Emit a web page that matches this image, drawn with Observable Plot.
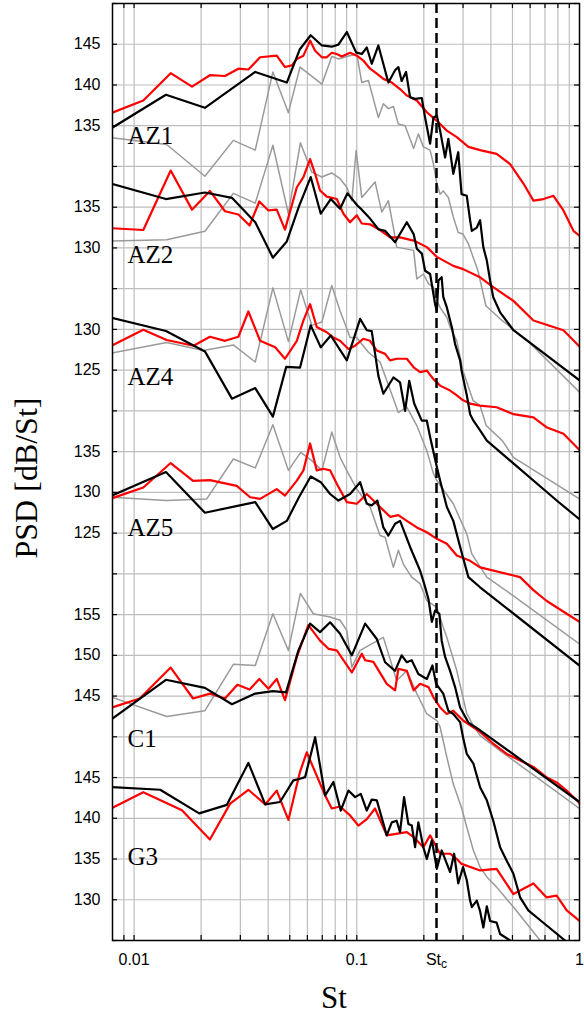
<!DOCTYPE html>
<html><head><meta charset="utf-8">
<script src="https://cdn.jsdelivr.net/npm/d3@7"></script>
<script src="https://cdn.jsdelivr.net/npm/@observablehq/plot@0.6"></script>
<style>
html,body{margin:0;padding:0;background:#fff;}
#chart{width:584px;height:1015px;}
</style></head><body><div id="chart"></div>
<script>
// ---- panel layout (each panel's dB values are shifted into one shared stacked axis)
const panels = ["AZ1","AZ2","AZ4","AZ5","C1","G3"];
const panelShift = {AZ1:35, AZ2:45, AZ4:55, AZ5:75, C1:115, G3:125};
const panelLabelDb = {AZ1:133.7, AZ2:129.1, AZ4:124.2, AZ5:125.6, C1:139.7, G3:135.2};
const yTickLabels = {AZ1:[135,140,145], AZ2:[130,135], AZ4:[125,130], AZ5:[125,130,135], C1:[145,150,155], G3:[130,135,140,145]};
const stC = 0.228;
const xTickValues = [0.01, 0.1, stC, 1];
const xTickLabels = ["0.01", "0.1", "St_c", "1"];
const gridX = [0.009,0.01,0.02,0.03,0.04,0.05,0.06,0.07,0.08,0.09,0.1,0.2,0.3,0.4,0.5,0.6,0.7,0.8,0.9];
const gridY = [0,5,10,15,20,25,30,35,40,45,50,55,60,65,70,75,80,85,90,95,100,105,110,115];

// ---- series: [St, PSD dB]
const az1Black = [[0.007,133.8],[0.0139,138.8],[0.0208,137.2],[0.035,141.6],[0.0485,140.3],[0.0554,144.35],[0.0621,146.1],[0.0697,144.85],[0.0772,144.7],[0.0827,144.95],[0.0902,146.5],[0.0993,144.0],[0.1053,143.8],[0.1109,144.6],[0.1167,142.6],[0.125,144.85],[0.1386,140.3],[0.1486,141.8],[0.1537,142.2],[0.159,140.5],[0.1664,141.6],[0.1735,138.5],[0.1827,138.3],[0.1958,138.4],[0.2026,136.0],[0.2134,132.8],[0.2209,136.0],[0.2288,136.25],[0.2366,134.4],[0.2492,131.1],[0.2577,133.4],[0.2712,129.1],[0.2854,131.75],[0.2954,126.6],[0.3118,126.4],[0.3227,123.4],[0.3284,122.1],[0.3458,122.5],[0.3578,123.4],[0.3699,120.1],[0.3836,118.45],[0.3968,116.0],[0.41,113.95],[0.44,112.1],[0.505,109.9],[1.0,103.75]];
const az1Red = [[0.007,136.0],[0.011,138.1],[0.0146,141.45],[0.0182,139.8],[0.0219,141.2],[0.0256,141.1],[0.0294,142.0],[0.0326,141.9],[0.0368,143.4],[0.0437,143.6],[0.0476,142.2],[0.0511,142.4],[0.0538,143.2],[0.0576,143.6],[0.0617,145.45],[0.065,144.2],[0.0697,143.4],[0.0733,143.4],[0.0772,143.95],[0.0813,143.8],[0.0856,143.5],[0.0933,143.95],[0.1,143.6],[0.107,143.0],[0.1147,142.0],[0.123,141.4],[0.1316,140.75],[0.1436,140.3],[0.1564,139.5],[0.1677,138.7],[0.186,138.1],[0.2063,136.65],[0.2288,135.6],[0.2537,134.4],[0.2812,133.6],[0.317,132.4],[0.3578,132.0],[0.4245,131.55],[0.488,130.3],[0.56,127.9],[0.621,125.8],[0.689,126.0],[0.764,126.4],[0.847,124.6],[0.939,122.1],[1.0,121.5]];
const az1Gray = [[0.007,133.7],[0.014,132.7],[0.0208,128.8],[0.0279,133.2],[0.035,132.0],[0.042,141.6],[0.0493,136.6],[0.0556,142.2],[0.0697,140.1],[0.0772,143.5],[0.0827,143.2],[0.0902,143.5],[0.1,143.8],[0.1053,140.3],[0.1128,140.55],[0.125,136.0],[0.1316,137.7],[0.1386,137.1],[0.146,137.35],[0.1537,135.2],[0.1648,135.0],[0.18,132.2],[0.189,134.0],[0.199,132.4],[0.2134,132.0],[0.2209,130.3],[0.2288,127.9],[0.2366,126.6],[0.2445,127.0],[0.2577,126.2],[0.2712,123.8],[0.2854,121.9],[0.3,121.7],[0.317,120.5],[0.35,117.2],[0.38,112.9],[0.44,111.3],[0.6,108.3],[1.0,102.3]];

const az2Black = [[0.007,138.3],[0.0139,136.0],[0.0208,136.8],[0.0275,136.15],[0.035,133.15],[0.042,128.8],[0.0485,130.8],[0.055,135.1],[0.0621,138.7],[0.0689,134.2],[0.0764,136.0],[0.0841,134.8],[0.0908,136.7],[0.1006,135.2],[0.1053,134.7],[0.1147,133.6],[0.125,132.3],[0.134,132.1],[0.1486,130.7],[0.1677,133.15],[0.18,131.7],[0.186,129.9],[0.196,129.3],[0.2026,127.2],[0.2134,126.8],[0.2247,123.1],[0.2288,122.3],[0.2326,126.0],[0.2405,126.4],[0.2445,124.0],[0.2537,122.7],[0.2675,120.2],[0.2763,118.2],[0.291,116.2],[0.2954,114.95],[0.312,111.9],[0.3227,109.6],[0.334,108.8],[0.3578,107.6],[0.3836,106.35],[0.79,99.0],[1.0,96.7]];
const az2Red = [[0.007,132.5],[0.011,132.2],[0.0146,139.5],[0.0182,134.7],[0.0219,137.0],[0.0256,134.5],[0.0294,134.1],[0.033,132.75],[0.0365,135.7],[0.0401,134.6],[0.0437,134.7],[0.0476,132.25],[0.0538,137.45],[0.0576,138.7],[0.0617,140.9],[0.065,139.1],[0.0684,137.05],[0.0733,136.3],[0.0813,136.0],[0.0871,134.2],[0.0933,133.15],[0.1,134.0],[0.1053,133.0],[0.1147,132.9],[0.1272,132.2],[0.1411,131.3],[0.1564,131.3],[0.18,130.9],[0.2063,130.1],[0.2288,128.9],[0.2712,127.8],[0.3,127.4],[0.3578,126.4],[0.41,125.2],[0.505,123.5],[0.621,121.1],[0.764,120.3],[0.847,119.9],[1.0,117.9]];
const az2Gray = [[0.007,130.8],[0.014,131.0],[0.0208,132.05],[0.0279,136.7],[0.035,135.5],[0.042,142.6],[0.0493,134.2],[0.0558,142.9],[0.0628,139.3],[0.0697,138.7],[0.0772,139.2],[0.0841,138.5],[0.0902,137.45],[0.095,135.8],[0.0993,141.95],[0.1053,136.2],[0.1208,138.1],[0.1295,134.4],[0.1386,135.8],[0.146,132.5],[0.151,130.1],[0.18,129.7],[0.186,126.2],[0.199,126.8],[0.21,125.6],[0.2209,125.2],[0.2288,123.5],[0.2366,122.7],[0.2445,122.1],[0.2537,121.5],[0.2624,120.3],[0.2812,118.6],[0.3,114.9],[0.333,111.25],[0.3578,110.65],[0.381,108.2],[0.45,106.35],[0.505,104.3],[1.0,99.2]];

const az4Black = [[0.007,131.8],[0.0139,129.8],[0.0208,127.3],[0.0275,121.5],[0.035,122.8],[0.042,119.3],[0.0482,125.4],[0.0556,125.3],[0.0621,130.5],[0.0689,127.8],[0.0764,129.25],[0.0902,126.2],[0.1035,131.3],[0.1109,129.9],[0.1167,129.8],[0.125,124.3],[0.1316,122.1],[0.146,124.1],[0.1564,123.5],[0.1648,120.0],[0.172,123.7],[0.181,120.9],[0.1958,118.8],[0.2063,118.8],[0.2134,116.8],[0.2288,113.1],[0.2366,111.45],[0.2537,108.2],[0.2712,106.5],[0.2954,102.65],[0.317,99.6],[0.3578,98.35],[1.0,88.75]];
const az4Red = [[0.007,127.25],[0.011,129.95],[0.014,128.7],[0.0185,128.0],[0.0219,129.1],[0.0256,128.6],[0.0294,129.1],[0.0326,132.2],[0.0368,128.6],[0.043,127.8],[0.0476,126.4],[0.0538,128.6],[0.0576,131.1],[0.0617,133.1],[0.0661,130.3],[0.0733,129.65],[0.0785,129.0],[0.0841,128.6],[0.0917,127.6],[0.0983,128.0],[0.107,128.85],[0.1147,128.6],[0.123,127.4],[0.134,127.0],[0.1411,126.2],[0.151,126.4],[0.1677,126.4],[0.18,125.35],[0.1924,124.75],[0.2063,124.95],[0.2209,123.9],[0.2366,123.1],[0.2624,122.5],[0.2812,121.9],[0.3,121.3],[0.3227,120.9],[0.3578,120.65],[0.4245,120.45],[0.505,119.6],[0.621,119.2],[0.71,118.0],[0.847,117.2],[1.0,115.2]];
const az4Gray = [[0.007,126.8],[0.014,128.4],[0.0205,127.4],[0.0279,128.1],[0.035,126.0],[0.042,135.1],[0.0493,128.5],[0.056,134.85],[0.0628,130.5],[0.0697,130.9],[0.0772,135.4],[0.0841,132.3],[0.0933,129.0],[0.1,129.0],[0.1053,128.2],[0.1128,127.2],[0.1272,126.0],[0.1537,119.8],[0.1677,120.45],[0.186,118.2],[0.2063,115.1],[0.2209,112.3],[0.2288,111.45],[0.2712,108.6],[0.3118,104.9],[0.3284,102.45],[0.3836,99.6],[0.505,97.3],[1.0,91.4]];

const az5Black = [[0.007,128.95],[0.0139,132.5],[0.0208,127.5],[0.035,128.8],[0.042,125.5],[0.0485,126.5],[0.055,129.4],[0.0621,131.95],[0.0689,131.25],[0.0759,129.8],[0.0827,129.0],[0.0933,129.8],[0.1035,131.25],[0.1109,128.6],[0.1167,128.4],[0.1237,129.0],[0.1316,125.7],[0.1386,124.7],[0.1486,126.15],[0.1564,126.5],[0.1648,124.9],[0.1735,123.3],[0.1827,121.85],[0.1924,120.4],[0.2006,118.8],[0.2098,116.9],[0.2173,114.1],[0.2247,115.5],[0.2348,115.1],[0.2405,111.8],[0.2492,109.8],[0.2624,108.1],[0.2763,106.1],[0.291,103.6],[0.317,101.75],[0.3578,100.8],[1.0,92.0]];
const az5Red = [[0.007,128.75],[0.011,130.6],[0.0146,133.6],[0.0184,131.4],[0.0219,131.5],[0.0289,130.8],[0.0332,129.4],[0.0368,129.2],[0.0437,130.4],[0.0476,129.6],[0.0538,131.45],[0.0576,132.7],[0.0617,136.0],[0.0661,132.7],[0.0708,132.9],[0.0759,132.7],[0.0813,131.05],[0.0902,128.8],[0.1,128.6],[0.1109,129.8],[0.1272,128.2],[0.1411,127.0],[0.1537,127.2],[0.1677,126.5],[0.186,125.7],[0.2063,125.1],[0.2288,124.3],[0.2537,123.7],[0.2812,122.25],[0.3227,121.6],[0.3578,120.8],[0.505,119.8],[0.541,119.6],[0.621,118.0],[0.71,116.7],[0.876,115.1],[1.0,114.1]];
const az5Gray = [[0.007,129.5],[0.014,129.0],[0.0212,129.2],[0.0279,134.1],[0.035,133.0],[0.042,138.3],[0.0493,132.7],[0.056,134.9],[0.0628,133.9],[0.0697,132.7],[0.0772,137.4],[0.0841,134.3],[0.0917,132.3],[0.1,130.4],[0.1147,128.2],[0.1272,124.7],[0.134,124.5],[0.146,120.8],[0.1537,122.9],[0.1618,121.2],[0.1764,119.6],[0.1924,118.8],[0.2063,116.7],[0.2288,115.9],[0.2445,113.45],[0.2537,112.2],[0.2812,108.1],[0.3118,102.85],[0.333,101.4],[0.3578,100.15],[0.45,98.1],[1.0,91.2]];

const c1Black = [[0.007,141.1],[0.0139,147.0],[0.0208,146.0],[0.0275,144.0],[0.035,145.3],[0.042,145.6],[0.0481,145.45],[0.0547,150.6],[0.0617,153.9],[0.0684,152.85],[0.0759,154.05],[0.0841,152.65],[0.095,150.0],[0.109,153.9],[0.123,152.0],[0.134,149.15],[0.1486,148.1],[0.159,150.0],[0.1677,149.15],[0.1764,149.4],[0.189,147.7],[0.2063,147.1],[0.2186,148.75],[0.2271,146.5],[0.2445,145.3],[0.2577,143.2],[0.2712,142.8],[0.291,141.8],[0.3,139.95],[0.3118,137.9],[0.334,136.7],[0.3578,133.8],[0.3836,132.2],[0.41,129.7],[0.44,126.45],[0.471,124.8],[0.505,123.2],[0.541,120.3],[0.589,118.7],[0.642,117.85],[0.861,115.0],[1.0,113.5]];
const c1Red = [[0.007,143.1],[0.0106,144.7],[0.0146,148.5],[0.0184,144.7],[0.0219,145.3],[0.0256,144.7],[0.0291,146.4],[0.033,145.8],[0.0365,147.1],[0.0401,145.9],[0.0437,147.1],[0.0476,144.5],[0.0538,149.8],[0.0606,153.7],[0.0684,151.8],[0.0746,150.8],[0.0813,150.6],[0.0871,149.4],[0.095,147.9],[0.1053,150.2],[0.109,149.4],[0.1187,149.2],[0.1363,146.5],[0.1486,145.7],[0.1537,148.35],[0.1677,148.1],[0.18,145.7],[0.1924,146.5],[0.2098,146.1],[0.2209,144.85],[0.2366,143.6],[0.2537,142.8],[0.2712,143.2],[0.3,142.0],[0.3578,140.6],[0.41,139.15],[0.471,137.9],[0.541,137.1],[0.621,136.3],[0.71,135.05],[0.79,134.4],[0.876,133.4],[0.99,132.0],[1.0,131.8]];
const c1Gray = [[0.007,145.4],[0.014,142.5],[0.0208,143.2],[0.0279,148.9],[0.035,148.75],[0.042,155.1],[0.0493,150.6],[0.0558,157.6],[0.0638,155.1],[0.0759,154.7],[0.0841,154.3],[0.0902,153.05],[0.095,148.55],[0.1035,150.6],[0.1316,152.2],[0.151,146.9],[0.1677,148.1],[0.186,145.3],[0.2063,142.8],[0.2288,142.0],[0.2366,141.2],[0.2537,137.5],[0.2712,134.2],[0.2954,131.3],[0.3118,128.9],[0.334,126.05],[0.3578,124.0],[0.3836,122.8],[0.4245,121.55],[0.505,119.1],[0.58,117.05],[0.666,115.0],[1.0,108.9]];

const g3Black = [[0.007,143.9],[0.0131,143.5],[0.0196,140.6],[0.0261,141.65],[0.0326,146.8],[0.0388,141.7],[0.0452,142.0],[0.0519,144.65],[0.0556,144.85],[0.0586,145.05],[0.065,149.95],[0.0721,142.8],[0.0785,144.45],[0.0847,140.95],[0.0917,143.4],[0.0983,142.6],[0.1042,143.0],[0.1109,140.95],[0.1167,142.3],[0.123,142.2],[0.1363,137.9],[0.1436,139.5],[0.151,139.7],[0.1564,138.3],[0.163,142.6],[0.1705,139.3],[0.1766,139.1],[0.1827,136.45],[0.189,139.5],[0.199,136.45],[0.2063,135.0],[0.2173,137.3],[0.2288,133.8],[0.2405,136.05],[0.2624,133.4],[0.2735,135.65],[0.2854,132.0],[0.3,134.0],[0.3118,132.4],[0.3227,129.9],[0.3284,129.1],[0.3458,129.9],[0.3578,128.6],[0.37,126.6],[0.3836,129.2],[0.3968,127.4],[0.4245,127.2],[0.44,125.8],[0.488,125.0],[0.52,122.0]];
const g3Red = [[0.007,140.5],[0.011,143.2],[0.0164,141.0],[0.0219,137.4],[0.027,141.8],[0.0326,143.5],[0.0388,141.7],[0.0437,143.4],[0.0493,139.8],[0.0556,145.7],[0.0596,148.1],[0.0721,142.8],[0.0772,141.2],[0.0841,141.45],[0.0933,140.35],[0.1017,139.1],[0.1109,139.9],[0.1208,141.2],[0.1363,137.9],[0.1677,138.3],[0.18,137.7],[0.199,136.45],[0.2134,137.9],[0.2366,135.65],[0.2624,135.65],[0.2812,135.0],[0.2954,134.4],[0.3578,133.6],[0.4245,133.8],[0.505,130.7],[0.621,132.0],[0.71,130.3],[0.79,130.5],[0.876,128.7],[0.99,127.5],[1.0,127.4]];

const series = [
  {panel:"AZ1", kind:"gray", data:az1Gray},{panel:"AZ2", kind:"gray", data:az2Gray},{panel:"AZ4", kind:"gray", data:az4Gray},
  {panel:"AZ5", kind:"gray", data:az5Gray},{panel:"C1", kind:"gray", data:c1Gray},
  {panel:"AZ1", kind:"red", data:az1Red},{panel:"AZ2", kind:"red", data:az2Red},{panel:"AZ4", kind:"red", data:az4Red},
  {panel:"AZ5", kind:"red", data:az5Red},{panel:"C1", kind:"red", data:c1Red},{panel:"G3", kind:"red", data:g3Red},
  {panel:"AZ1", kind:"black", data:az1Black},{panel:"AZ2", kind:"black", data:az2Black},{panel:"AZ4", kind:"black", data:az4Black},
  {panel:"AZ5", kind:"black", data:az5Black},{panel:"C1", kind:"black", data:c1Black},{panel:"G3", kind:"black", data:g3Black}
];
const lineStyle = {gray:{stroke:"#9a9a9a", strokeWidth:1.5}, red:{stroke:"#ff0000", strokeWidth:2.2}, black:{stroke:"#000000", strokeWidth:2.2}};

// y tick labels on the stacked axis
const yLabelMap = new Map();
for (const p of panels) for (const v of yTickLabels[p]) yLabelMap.set(v - panelShift[p], String(v));
const yLabelTicks = [...yLabelMap.keys()];
const xLabelMap = new Map(xTickValues.map((v, i) => [v, xTickLabels[i]]));

const sans = "'Liberation Sans', Arial, Helvetica, sans-serif";
const serif = "'Liberation Serif', 'Times New Roman', serif";

const marks = [
  Plot.ruleX(gridX, {stroke:"#bdbdbd", strokeWidth:1.2}),
  Plot.ruleY(gridY, {stroke:"#bdbdbd", strokeWidth:1.2}),
];
for (const s of series) {
  const sh = panelShift[s.panel];
  marks.push(Plot.line(s.data, {x: d => d[0], y: d => d[1] - sh, ...lineStyle[s.kind], clip: true}));
}
marks.push(
  Plot.ruleX([stC], {stroke:"black", strokeWidth:2.5, strokeDasharray:"10,5"}),
  Plot.text(panels, {frameAnchor:"left", y: p => panelLabelDb[p] - panelShift[p], text: d => d, dx: 15, textAnchor:"start", fontSize: 25, fontFamily: serif, fill:"black"}),
  // short inward tick marks on all four sides
  Plot.tickY(gridY, {y: d => d, insetRight: 462, stroke: "black", strokeWidth: 1.2}),
  Plot.tickY(gridY, {y: d => d, insetLeft: 462, stroke: "black", strokeWidth: 1.2}),
  Plot.tickX(gridX, {x: d => d, insetTop: 932, stroke: "black", strokeWidth: 1.2}),
  Plot.tickX(gridX, {x: d => d, insetBottom: 932, stroke: "black", strokeWidth: 1.2}),
  Plot.frame({stroke:"black", strokeWidth:1.5}),
  Plot.axisY(yLabelTicks, {anchor:"left", tickSize:0, tickPadding:12, tickFormat: d => yLabelMap.get(d), label: null, fontSize: 16, fontFamily: sans}),
  Plot.axisX(xTickValues, {anchor:"bottom", tickSize:0, tickPadding:13, tickFormat: d => xLabelMap.get(d), label: null, fontSize: 16, fontFamily: sans}),
  Plot.text(["St"], {frameAnchor:"bottom", dx:-12, dy:67, lineAnchor:"bottom", textAnchor:"middle", fontSize:31, fontFamily: serif, fill:"black"}),
  Plot.text(["PSD [dB/St]"], {frameAnchor:"left", dx:-86, dy:6, rotate:-90, textAnchor:"middle", lineAnchor:"middle", fontSize:32, fontFamily: serif, fill:"black"})
);

const chart = Plot.plot({
  width: 584, height: 1015,
  marginLeft: 112, marginRight: 5, marginTop: 3, marginBottom: 75,
  x: {type:"log", domain:[0.008, 1]},
  y: {domain:[0, 115]},
  style: {fontFamily: sans, fontSize: "16px", color: "black", background: "white"},
  marks
});
// subscript c in the St_c tick label
chart.querySelectorAll("text").forEach(t => {
  if (t.textContent === "St_c") {
    t.textContent = "St";
    const ts = document.createElementNS("http://www.w3.org/2000/svg", "tspan");
    ts.setAttribute("dy", "0.3em");
    ts.setAttribute("font-size", "0.75em");
    ts.textContent = "c";
    t.appendChild(ts);
  }
});
document.getElementById("chart").appendChild(chart);
</script></body></html>
